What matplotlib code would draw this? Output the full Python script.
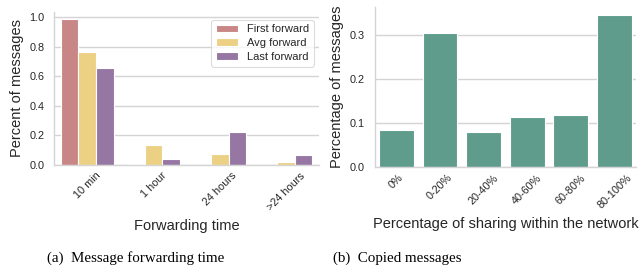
import matplotlib
matplotlib.use("Agg")
import matplotlib.pyplot as plt
import numpy as np

# Data
time_cats = ["10 min", "1 hour", "24 hours", ">24 hours"]
first_forward = [0.985, 0.005, 0.002, 0.001]
avg_forward = [0.765, 0.135, 0.075, 0.022]
last_forward = [0.655, 0.040, 0.225, 0.070]
series_names = ["First forward", "Avg forward", "Last forward"]
series_colors = ["#c98686", "#ecd185", "#9676a2"]

share_cats = ["0%", "0-20%", "20-40%", "40-60%", "60-80%", "80-100%"]
share_vals = [0.083, 0.304, 0.080, 0.113, 0.118, 0.345]
share_color = "#5f9c8b"

plt.rcParams['font.family'] = ['Liberation Sans', 'DejaVu Sans']
grid_c = "#d4d4d4"
text_c = "#262626"

fig = plt.figure(figsize=(6.41, 2.73), dpi=100)

def style(ax):
    ax.set_facecolor("white")
    for s in ["top", "right"]:
        ax.spines[s].set_visible(False)
    for s in ["left", "bottom"]:
        ax.spines[s].set_color(grid_c)
        ax.spines[s].set_linewidth(1.0)
    ax.yaxis.grid(True, color=grid_c, linewidth=1.0)
    ax.xaxis.grid(False)
    ax.set_axisbelow(True)
    ax.tick_params(axis="both", length=0, labelsize=7.8, colors=text_c)
    ax.tick_params(axis="y", pad=7)
    ax.tick_params(axis="x", pad=4)

# Left panel
ax1 = fig.add_axes([0.0843, 0.396, 0.4135, 0.56])
style(ax1)
x = np.arange(len(time_cats))
w = 0.8 / 3
for i, (vals, name, c) in enumerate(zip([first_forward, avg_forward, last_forward], series_names, series_colors)):
    ax1.bar(x + (i - 1) * w, vals, width=w, color=c, edgecolor="white", linewidth=0.8, label=name)
ax1.set_xlim(-0.5, len(time_cats) - 0.5)
ax1.set_xticks(x)
ax1.set_xticklabels(time_cats, rotation=45)
ax1.set_yticks([0.0, 0.2, 0.4, 0.6, 0.8, 1.0])
ax1.set_yticklabels(["0.0", "0.2", "0.4", "0.6", "0.8", "1.0"])
ax1.set_ylabel("Percent of messages", fontsize=10.5, color=text_c, labelpad=4)
ax1.set_xlabel("Forwarding time", fontsize=10.5, color=text_c, labelpad=5)
leg = ax1.legend(loc="upper right", fontsize=8, frameon=True, borderpad=0.4,
                 handlelength=2.0, labelspacing=0.35, bbox_to_anchor=(1.0, 0.985))
leg.get_frame().set_edgecolor(grid_c)
leg.get_frame().set_linewidth(0.8)
for t in leg.get_texts():
    t.set_color(text_c)

# Right panel
ax2 = fig.add_axes([0.5845, 0.388, 0.408, 0.585])
style(ax2)
x2 = np.arange(len(share_cats))
ax2.bar(x2, share_vals, width=0.8, color=share_color, edgecolor="white", linewidth=0.8)
ax2.set_xlim(-0.5, len(share_cats) - 0.5)
ax2.set_xticks(x2)
ax2.set_xticklabels(share_cats, rotation=45)
ax2.set_yticks([0.0, 0.1, 0.2, 0.3])
ax2.set_yticklabels(["0.0", "0.1", "0.2", "0.3"])
ax2.set_ylabel("Percentage of messages", fontsize=10.5, color=text_c, labelpad=4)
ax2.set_xlabel("Percentage of sharing within the network", fontsize=10.5, color=text_c, labelpad=5)

# Captions
fig.text(136 / 641, 1 - 258 / 273, "(a)  Message forwarding time", ha="center", va="center",
         fontsize=10.8, family=["Liberation Serif"], color="black")
fig.text(397 / 641, 1 - 258 / 273, "(b)  Copied messages", ha="center", va="center",
         fontsize=10.8, family=["Liberation Serif"], color="black")

fig.savefig("out.png", dpi=100)
